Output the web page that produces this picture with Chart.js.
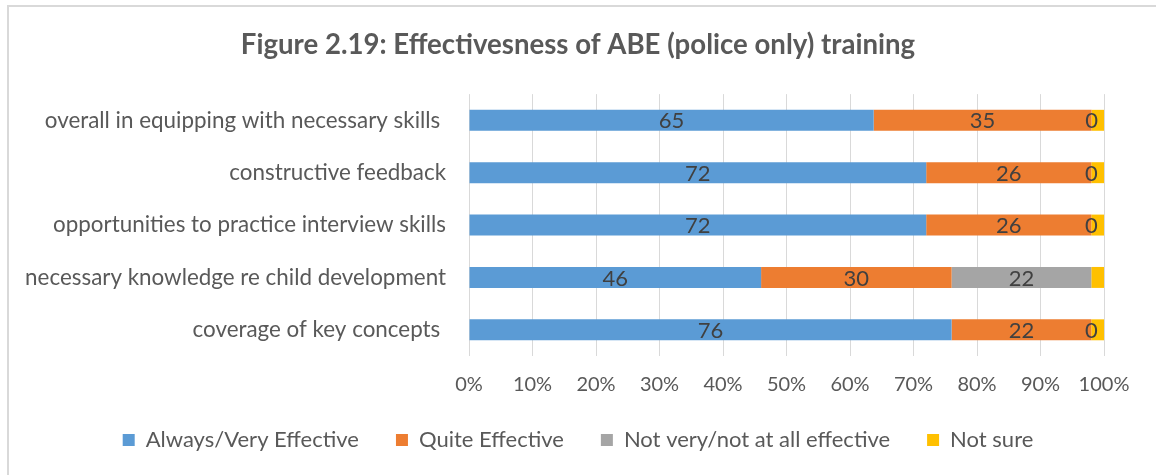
<!DOCTYPE html>
<html>
<head>
<meta charset="utf-8">
<script src="https://cdn.jsdelivr.net/npm/chart.js@4"></script>
<style>
  html, body { margin: 0; padding: 0; background: #fff; }
  #wrap { width: 1156px; height: 475px; }
</style>
</head>
<body>
<div id="wrap"><canvas id="abeChart" width="1156" height="475"></canvas></div>
<script>
// chart data
const categories = [
    'overall in equipping with necessary skills ',
    'constructive feedback',
    'opportunities to practice interview skills',
    'necessary knowledge re child development',
    'coverage of key concepts '
];
const alwaysVery = [65, 72, 72, 46, 76];
const quite = [35, 26, 26, 30, 22];
const notVery = [0, 0, 0, 22, 0];
const notSure = [2, 2, 2, 2, 2];
const xTicks = [0, 10, 20, 30, 40, 50, 60, 70, 80, 90, 100];

const FONT = 'Lato, "Open Sans", sans-serif';
const TEXT = '#595959';

// 100% stacked: turn raw counts into row shares
const rowTotals = categories.map((c, i) => alwaysVery[i] + quite[i] + notVery[i] + notSure[i]);
const toPct = arr => arr.map((v, i) => v / rowTotals[i] * 100);

const series = [
    { label: 'Always/Very Effective', raw: alwaysVery, color: '#5B9BD5', showLabels: true },
    { label: 'Quite Effective', raw: quite, color: '#ED7D31', showLabels: true },
    { label: 'Not very/not at all effective', raw: notVery, color: '#A5A5A5', showLabels: true },
    { label: 'Not sure', raw: notSure, color: '#FFC000', showLabels: false }
];

// draws the value labels inside each segment
const segmentLabels = {
    id: 'segmentLabels',
    afterDatasetsDraw(chart) {
        const ctx = chart.ctx;
        ctx.save();
        ctx.font = '22px ' + FONT;
        ctx.fillStyle = '#404040';
        ctx.textAlign = 'center';
        ctx.textBaseline = 'middle';
        chart.data.datasets.forEach((ds, di) => {
            if (!ds.showLabels) return;
            chart.getDatasetMeta(di).data.forEach((bar, i) => {
                const cx = (bar.x + bar.base) / 2;
                ctx.fillText(String(ds.raw[i]), cx, bar.y + 1);
            });
        });
        ctx.restore();
    }
};

// white background and the frame lines on top/left
const frame = {
    id: 'frame',
    beforeDraw(chart) {
        const ctx = chart.ctx;
        ctx.save();
        ctx.fillStyle = '#ffffff';
        ctx.fillRect(0, 0, chart.width, chart.height);
        ctx.strokeStyle = '#d9d9d9';
        ctx.lineWidth = 2;
        ctx.beginPath();
        ctx.moveTo(8, chart.height);
        ctx.lineTo(8, 6);
        ctx.lineTo(chart.width, 6);
        ctx.stroke();
        ctx.restore();
    }
};

const ctx = document.getElementById('abeChart');
if (ctx) {
    new Chart(ctx.getContext('2d'), {
        type: 'bar',
        data: {
            labels: categories,
            datasets: series.map(s => ({
                label: s.label,
                data: toPct(s.raw),
                raw: s.raw,
                showLabels: s.showLabels,
                backgroundColor: s.color,
                borderWidth: 0,
                barPercentage: 0.8,
                categoryPercentage: 0.5
            }))
        },
        options: {
            indexAxis: 'y',
            responsive: false,
            animation: false,
            layout: { padding: { left: 0, right: 0, top: 0, bottom: 14 } },
            scales: {
                x: {
                    stacked: true,
                    min: 0,
                    max: 100,
                    afterBuildTicks: scale => { scale.ticks = xTicks.map(v => ({ value: v })); },
                    afterFit: scale => { scale.height = 36; },
                    ticks: {
                        callback: v => v + '%',
                        color: TEXT,
                        font: { family: FONT, size: 20 },
                        padding: 17,
                        maxRotation: 0
                    },
                    grid: { color: '#d9d9d9', lineWidth: 1, drawTicks: false },
                    border: { display: false }
                },
                y: {
                    stacked: true,
                    afterFit: scale => { scale.width = 469; },
                    ticks: {
                        color: TEXT,
                        font: { family: FONT, size: 22.4 },
                        padding: 23
                    },
                    grid: { display: false, drawTicks: false },
                    border: { display: false }
                },
                // empty right-hand gutter so title and legend centre on the whole frame
                yRight: {
                    type: 'category',
                    axis: 'y',
                    position: 'right',
                    afterFit: scale => { scale.width = 52; },
                    ticks: { display: false },
                    grid: { display: false, drawTicks: false },
                    border: { display: false }
                }
            },
            plugins: {
                title: {
                    display: true,
                    text: 'Figure 2.19: Effectivesness of ABE (police only) training',
                    color: TEXT,
                    font: { family: FONT, size: 27.6, weight: 'bold' },
                    padding: { top: 29, bottom: 32 }
                },
                legend: {
                    position: 'bottom',
                    labels: {
                        boxWidth: 12,
                        boxHeight: 12,
                        color: TEXT,
                        font: { family: FONT, size: 22 },
                        padding: 37
                    }
                },
                tooltip: { enabled: false }
            }
        },
        plugins: [frame, segmentLabels]
    });
} else {
    console.error("abeChart canvas not found.");
}
</script>
</body>
</html>
